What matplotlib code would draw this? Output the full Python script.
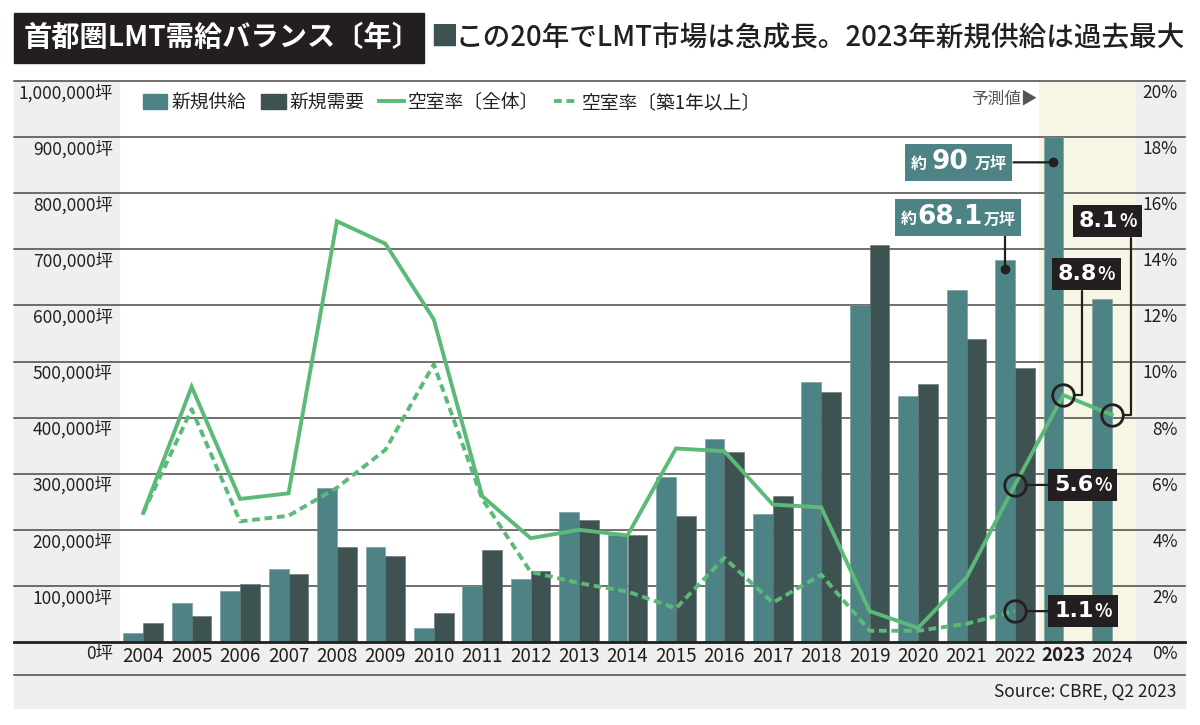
import matplotlib
matplotlib.use("Agg")
import matplotlib.pyplot as plt
import matplotlib.patches as patches
import matplotlib.lines as mlines
import matplotlib.transforms as mtransforms
from matplotlib.offsetbox import TextArea, HPacker, AnnotationBbox

plt.rcParams['font.family'] = ['Noto Sans CJK JP', 'DejaVu Sans']

# data (坪 / %)
years = [str(y) for y in range(2004, 2025)]
supply = [16000, 70000, 91000, 130000, 275000, 170000, 25000, 100000, 112000, 232000,
          191000, 295000, 362000, 228000, 464000, 600000, 439000, 627000, 681000, 900000, 612000]
demand = [34000, 47000, 104000, 121000, 170000, 154000, 52000, 164000, 127000, 218000,
          191000, 224000, 339000, 261000, 445000, 707000, 460000, 540000, 489000]
vac_all = [4.6, 9.1, 5.1, 5.3, 15.0, 14.2, 11.5, 5.2, 3.7, 4.0, 3.8, 6.9, 6.8, 4.9, 4.8,
           1.1, 0.5, 2.3, 5.6, 8.8, 8.1]
vac_old = [4.6, 8.3, 4.3, 4.5, 5.5, 6.85, 9.9, 5.1, 2.5, 2.1, 1.8, 1.2, 3.0, 1.4, 2.4,
           0.4, 0.4, 0.65, 1.1]

teal = "#4e8385"
dark = "#3f5252"
green = "#5cba78"
cream = "#f7f5e4"
gray = "#efefef"
ink = "#231f20"

W, H = 1200, 725
fig = plt.figure(figsize=(12, 7.25), dpi=100)
fig.patch.set_facecolor("white")

def fx(px):
    return px / W

def fy(py):
    return 1 - py / H

# background panels
fig.add_artist(patches.Rectangle((fx(14), fy(642)), fx(119) - fx(14), fy(81) - fy(642),
                                 transform=fig.transFigure, color=gray, zorder=-5))
fig.add_artist(patches.Rectangle((fx(1136), fy(642)), fx(1185) - fx(1136), fy(81) - fy(642),
                                 transform=fig.transFigure, color=gray, zorder=-5))
fig.add_artist(patches.Rectangle((fx(14), fy(708)), fx(1185) - fx(14), fy(642) - fy(708),
                                 transform=fig.transFigure, color=gray, zorder=-5))
fig.add_artist(mlines.Line2D([fx(14), fx(1185)], [fy(675), fy(675)], transform=fig.transFigure,
                             color="#555555", lw=1.2, zorder=-4))

ax = fig.add_axes([fx(119), fy(642), fx(1136) - fx(119), fy(81) - fy(642)])
ax.set_facecolor("none")
x = list(range(len(years)))
ax.set_xlim(-0.5, 20.5)
ax.set_ylim(0, 1000000)
for s in ax.spines.values():
    s.set_visible(False)

ax.axvspan(18.5, 20.5, color=cream, zorder=0.1, lw=0)

yt = list(range(0, 1000001, 100000))
x0 = (14 - 119) / (1136 - 119)
x1 = (1185 - 119) / (1136 - 119)
for v in yt:
    if v == 0:
        ax.axhline(v, x0, x1, color=ink, lw=2.0, clip_on=False, zorder=4)
    else:
        ax.axhline(v, x0, x1, color="#4a4646", lw=1.1, clip_on=False, zorder=0.5)

bw = 0.41
ax.bar([i - bw / 2 for i in range(len(supply))], supply, width=bw, color=teal, zorder=2,
       edgecolor="#6f9a9c", linewidth=0.4)
ax.bar([i + bw / 2 for i in range(len(demand))], demand, width=bw, color=dark, zorder=2,
       edgecolor="#5e6f6f", linewidth=0.4)

ax.set_xticks(x)
ax.set_xticklabels(years, fontsize=13.5, color=ink)
ax.get_xticklabels()[19].set_fontweight("bold")
ax.tick_params(axis="x", length=0, pad=3)

ax.set_yticks(yt)
ax.set_yticklabels([f"{v:,}坪" for v in yt], fontsize=12.5, color=ink)
ax.tick_params(axis="y", length=0, pad=4.5)
down = mtransforms.ScaledTranslation(0, -3 / 100, fig.dpi_scale_trans)
for lab in ax.get_yticklabels():
    lab.set_va("top")
    lab.set_transform(lab.get_transform() + down)

ax2 = ax.twinx()
ax2.set_ylim(0, 20)
for s in ax2.spines.values():
    s.set_visible(False)
pt = list(range(0, 21, 2))
ax2.set_yticks(pt)
ax2.set_yticklabels([f"{v}%" for v in pt], fontsize=12.5, color=ink)
ax2.tick_params(axis="y", length=0, pad=30)
for lab in ax2.get_yticklabels():
    lab.set_va("top")
    lab.set_ha("right")
    lab.set_transform(lab.get_transform() + down)

l1, = ax2.plot(x, vac_all, color=green, lw=2.8, zorder=3, solid_joinstyle="miter")
l2, = ax2.plot(x[:len(vac_old)], vac_old, color=green, lw=2.8, zorder=3,
               linestyle=(0, (2.0, 1.2)))

# legend
h1 = patches.Patch(color=teal)
h2 = patches.Patch(color=dark)
ax.legend([h1, h2, l1, l2], ["新規供給", "新規需要", "空室率〔全体〕", "空室率〔築1年以上〕"],
          loc="center left", bbox_to_anchor=(0.0236, 0.961), ncol=4, frameon=False,
          borderaxespad=0, borderpad=0, fontsize=13.5, handlelength=1.3, handleheight=0.85,
          handletextpad=0.2, columnspacing=0.8, labelcolor=ink)

ax.text(18.46, 0.968, "予測値▶", transform=ax.get_xaxis_transform(), ha="right", va="center",
        fontsize=12, color="#555555")

# supply callouts
def supply_box(i, big, dy_val, box_off, link_off, sep):
    xb = i - bw / 2
    yd = supply[i] - dy_val
    ax.plot([xb], [yd], "o", color=ink, ms=6, zorder=6)
    ax.annotate("", xy=(xb, yd), xytext=link_off, textcoords="offset pixels",
                arrowprops=dict(arrowstyle="-", color=ink, lw=1.6, shrinkA=0, shrinkB=0), zorder=6)
    parts = HPacker(children=[
        TextArea("約", textprops=dict(color="white", fontsize=11.5, fontweight="bold")),
        TextArea(big, textprops=dict(color="white", fontsize=19, fontweight="bold",
                                     family="DejaVu Sans")),
        TextArea("万坪", textprops=dict(color="white", fontsize=11.5, fontweight="bold")),
    ], align="baseline", pad=0, sep=sep)
    ab = AnnotationBbox(parts, (xb, yd), xybox=box_off, boxcoords="offset pixels",
                        frameon=True, pad=0.35, fontsize=14,
                        bboxprops=dict(facecolor=teal, edgecolor="none", boxstyle="square"),
                        zorder=7)
    ax.add_artist(ab)

supply_box(19, "90", 45000, (-95, 0), (-40, 0), 4)
supply_box(18, "68.1", 17000, (-47, 52), (0, 35), 0.5)

# vacancy callouts
def vac_box(i, val, box_off, link_off, elbow):
    ax2.plot([i], [val], "o", ms=15.5, mfc="none", mec=ink, mew=2.0, zorder=6)
    cs = "angle,angleA=90,angleB=0,rad=0" if elbow else "arc3"
    ax2.annotate("", xy=(i, val), xytext=link_off, textcoords="offset pixels",
                 arrowprops=dict(arrowstyle="-", color=ink, lw=1.6, shrinkA=0, shrinkB=7.8,
                                 connectionstyle=cs), zorder=6)
    parts = HPacker(children=[
        TextArea(f"{val:.1f}", textprops=dict(color="white", fontsize=16, fontweight="bold",
                                              family="DejaVu Sans")),
        TextArea("%", textprops=dict(color="white", fontsize=13, fontweight="bold")),
    ], align="baseline", pad=0, sep=0.5)
    ab = AnnotationBbox(parts, (i, val), xybox=box_off, boxcoords="offset pixels",
                        frameon=True, pad=0.3, fontsize=14,
                        bboxprops=dict(facecolor=ink, edgecolor="none", boxstyle="square"),
                        zorder=7)
    ax2.add_artist(ab)

vac_box(18, vac_all[18], (68, 0), (33, 0), False)
vac_box(18, vac_old[18], (68, 0), (33, 0), False)
vac_box(19, vac_all[19], (23, 121), (19, 104), True)
vac_box(20, vac_all[20], (-4, 194), (19, 177), True)

# title
fig.add_artist(patches.Rectangle((fx(14), fy(63)), fx(424) - fx(14), fy(13) - fy(63),
                                 transform=fig.transFigure, color=ink, zorder=1))
fig.text(fx(24), fy(38), "首都圏LMT需給バランス〔年〕", color="white", fontsize=20.3,
         fontweight="bold", va="center", ha="left", zorder=2)
fig.text(fx(430), fy(38), "■", color=dark, fontsize=20, va="center", ha="left")
fig.text(fx(456), fy(38), "この20年でLMT市場は急成長。2023年新規供給は過去最大", color=ink,
         fontsize=19.9, fontweight="medium", va="center", ha="left")

fig.text(fx(1176), fy(692), "Source: CBRE, Q2 2023", color=ink, fontsize=12.5,
         va="center", ha="right")

fig.savefig("out.png", dpi=100)
